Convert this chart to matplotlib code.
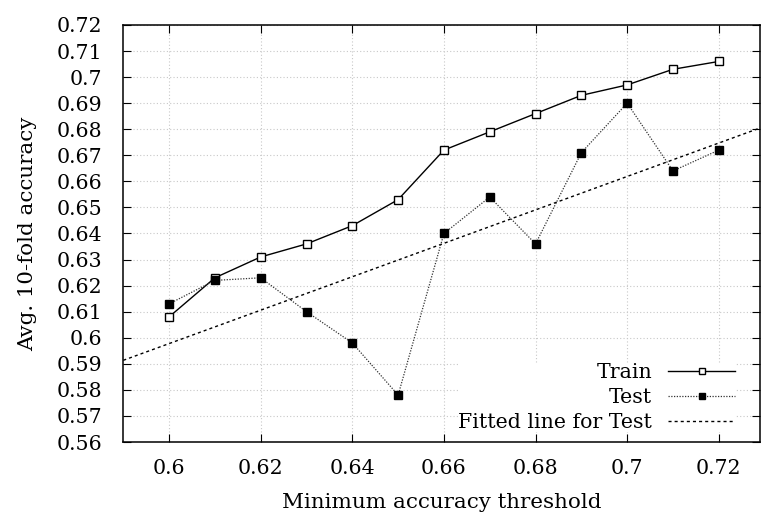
import numpy as np
import matplotlib
matplotlib.use("Agg")
from matplotlib import pyplot as plt

thresholds = [0.60, 0.61, 0.62, 0.63, 0.64, 0.65, 0.66, 0.67, 0.68, 0.69, 0.70, 0.71, 0.72]
train_acc = [0.608, 0.623, 0.631, 0.636, 0.643, 0.653, 0.672, 0.679, 0.686, 0.693, 0.697, 0.703, 0.706]
test_acc = [0.613, 0.622, 0.623, 0.610, 0.598, 0.578, 0.640, 0.654, 0.636, 0.671, 0.690, 0.664, 0.672]
x_ticks = [0.6, 0.62, 0.64, 0.66, 0.68, 0.7, 0.72]
y_ticks = [0.56, 0.57, 0.58, 0.59, 0.6, 0.61, 0.62, 0.63, 0.64, 0.65, 0.66, 0.67,
           0.68, 0.69, 0.7, 0.71, 0.72]

plt.rcParams['font.family'] = ['DejaVu Serif']
plt.rcParams['font.size'] = 14.8

fig = plt.figure(figsize=(7.61, 5.16), dpi=100)
ax = fig.add_axes([0.162, 0.1434, 0.8367, 0.8082])

# fitted line (least squares on test)
slope, icpt = np.polyfit(thresholds, test_acc, 1)
xs = np.array([0.59, 0.729])

ax.plot(thresholds, train_acc, color='black', lw=1.0, marker='s', ms=5.2,
        mfc='white', mec='black', mew=1.0, label='Train', zorder=4)
ax.plot(thresholds, test_acc, color='#333333', lw=0.9, ls=(0, (1, 1.2)), marker='s', ms=5.2,
        mfc='black', mec='black', label='Test', zorder=4)
ax.plot(xs, slope * xs + icpt, color='black', lw=1.0, ls=(0, (2.2, 2.2)),
        label='Fitted line for Test', zorder=3)

ax.set_xlim(0.59, 0.729)
ax.set_ylim(0.56, 0.72)
ax.set_xticks(x_ticks)
ax.set_xticklabels([f"{t:g}" for t in x_ticks])
ax.set_yticks(y_ticks)
ax.set_yticklabels([f"{t:g}" for t in y_ticks])
ax.tick_params(direction='in', length=6, width=0.8, top=True, right=True)
ax.tick_params(axis='x', pad=12)
ax.tick_params(axis='y', pad=15)
ax.grid(True, color='#c8c8c8', ls=(0, (1, 2)), lw=0.8)
ax.set_axisbelow(True)
for s in ax.spines.values():
    s.set_linewidth(1.1)

ax.set_xlabel("Minimum accuracy threshold", fontsize=15.4)
ax.set_ylabel("Avg. 10-fold accuracy", fontsize=15.4)
ax.xaxis.set_label_coords(0.5, -0.122)
ax.yaxis.set_label_coords(-0.136, 0.5)

leg = ax.legend(loc='lower right', bbox_to_anchor=(0.961, 0.024), markerfirst=False,
                frameon=True, framealpha=1.0, edgecolor='white', fancybox=False,
                fontsize=14.8, handlelength=3.25, labelspacing=0.29, borderpad=0.0,
                borderaxespad=0.0, handletextpad=0.78, markerscale=0.8)
leg.get_frame().set_linewidth(0)
leg.set_zorder(5)

fig.savefig("out.png", dpi=100)
